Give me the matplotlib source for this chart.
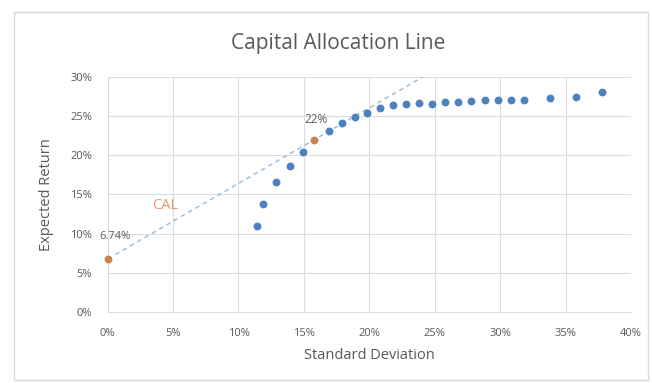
import matplotlib.pyplot as plt
from matplotlib.patches import Rectangle
from matplotlib.ticker import PercentFormatter

plt.rcParams['font.family'] = ['Open Sans', 'DejaVu Sans']

# Efficient frontier portfolios (standard deviation %, expected return %)
frontier_sd = [11.4, 11.9, 12.9, 13.9, 14.9, 16.9, 17.9, 18.9, 19.8, 20.8, 21.8, 22.8,
               23.8, 24.8, 25.8, 26.8, 27.8, 28.8, 29.8, 30.8, 31.8, 33.8, 35.8, 37.8]
frontier_ret = [11.0, 13.8, 16.6, 18.6, 20.4, 23.05, 24.15, 24.9, 25.4, 26.0, 26.4, 26.5,
                26.7, 26.6, 26.8, 26.8, 26.95, 27.0, 27.1, 27.1, 27.1, 27.3, 27.5, 28.1]

# Risk-free asset and tangency portfolio
rf_sd, rf_ret = 0.0, 6.74
tan_sd, tan_ret = 15.8, 22.0
cal_end_sd = 24.2

blue = '#4d82bf'
orange = '#c8824a'
grey_text = '#595959'
grid_col = '#dcdcdc'

fig = plt.figure(figsize=(6.52, 3.83), dpi=100)
ax = fig.add_axes([0.165, 0.186, 0.803, 0.613])

# chart border
fig.patches.append(Rectangle((14 / 652, 3 / 383), 634 / 652, 368 / 383,
                             transform=fig.transFigure, fill=False,
                             edgecolor='#d9d9d9', linewidth=1))

# capital allocation line through the tangency portfolio
slope = (tan_ret - rf_ret) / (tan_sd - rf_sd)
ax.plot([rf_sd + 0.6, cal_end_sd], [rf_ret + slope * 0.6, rf_ret + slope * cal_end_sd],
        linestyle=(0, (3, 2.5)), color='#9dbfe0', linewidth=1.1, zorder=2)

ax.scatter(frontier_sd, frontier_ret, s=32, color=blue, zorder=3, linewidths=0)
ax.scatter([rf_sd, tan_sd], [rf_ret, tan_ret], s=32, color=orange, zorder=4,
           linewidths=0, clip_on=False)

ax.text(rf_sd - 0.6, rf_ret + 2.9, f'{rf_ret:.2f}%', fontsize=8, color=grey_text,
        ha='left', va='center')
ax.text(tan_sd + 0.1, tan_ret + 2.6, f'{tan_ret:.0f}%', fontsize=8.5, color=grey_text,
        ha='center', va='center')
ax.text(4.4, 13.6, 'CAL', fontsize=10.5, color='#e59a6e', ha='center', va='center')

ax.set_xlim(0, 40)
ax.set_ylim(0, 30)
ax.set_xticks(range(0, 41, 5))
ax.set_yticks(range(0, 31, 5))
ax.xaxis.set_major_formatter(PercentFormatter(decimals=0))
ax.yaxis.set_major_formatter(PercentFormatter(decimals=0))
ax.tick_params(axis='x', length=0, labelsize=8, colors=grey_text, pad=12)
ax.tick_params(axis='y', length=0, labelsize=8, colors=grey_text, pad=11)
ax.grid(True, color=grid_col, linewidth=0.8)
ax.set_axisbelow(True)
for side in ['top', 'right', 'left']:
    ax.spines[side].set_visible(False)
ax.spines['bottom'].set_color(grid_col)

ax.set_xlabel('Standard Deviation', fontsize=10.5, color=grey_text, labelpad=6)
ax.set_ylabel('Expected Return', fontsize=10.5, color=grey_text, labelpad=12)
fig.text(0.518, 0.887, 'Capital Allocation Line', fontsize=15, color=grey_text,
         ha='center', va='center')

fig.savefig('out.png', dpi=100)
